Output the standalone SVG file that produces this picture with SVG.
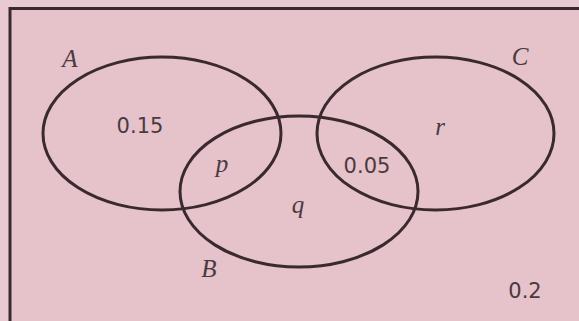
<svg xmlns="http://www.w3.org/2000/svg" width="579" height="321" viewBox="0 0 579 321">
<style>
.set{fill:none;stroke:#3a2a30;stroke-width:3}
.num{font-family:"DejaVu Sans",sans-serif;font-size:21px;fill:#4a3a40;text-anchor:middle}
.var{font-family:"Liberation Serif",serif;font-style:italic;font-size:25px;fill:#4a3a40;text-anchor:middle}
</style>
<rect x="0" y="0" width="579" height="321" fill="#eacad2"/>
<rect id="frame" x="10" y="8.5" width="620" height="340" fill="#e6c2cb" stroke="#3a2a30" stroke-width="3"/>
<g id="connectors"></g>
<g id="setA">
<ellipse class="set" cx="162" cy="133.5" rx="119" ry="76.5"/>
<text class="var" x="70" y="67">A</text>
</g>
<g id="setC">
<ellipse class="set" cx="435.5" cy="133.5" rx="118.5" ry="76.5"/>
<text class="var" x="520" y="65">C</text>
</g>
<g id="setB">
<ellipse class="set" cx="299" cy="191.5" rx="119" ry="75.5"/>
<text class="var" x="209" y="277">B</text>
</g>
<g id="labels">
<text class="num" x="140" y="133">0.15</text>
<text class="var" x="222" y="172">p</text>
<text class="var" x="298" y="213">q</text>
<text class="num" x="367" y="173">0.05</text>
<text class="var" x="440" y="135">r</text>
<text class="num" x="525" y="298">0.2</text>
</g>
</svg>
